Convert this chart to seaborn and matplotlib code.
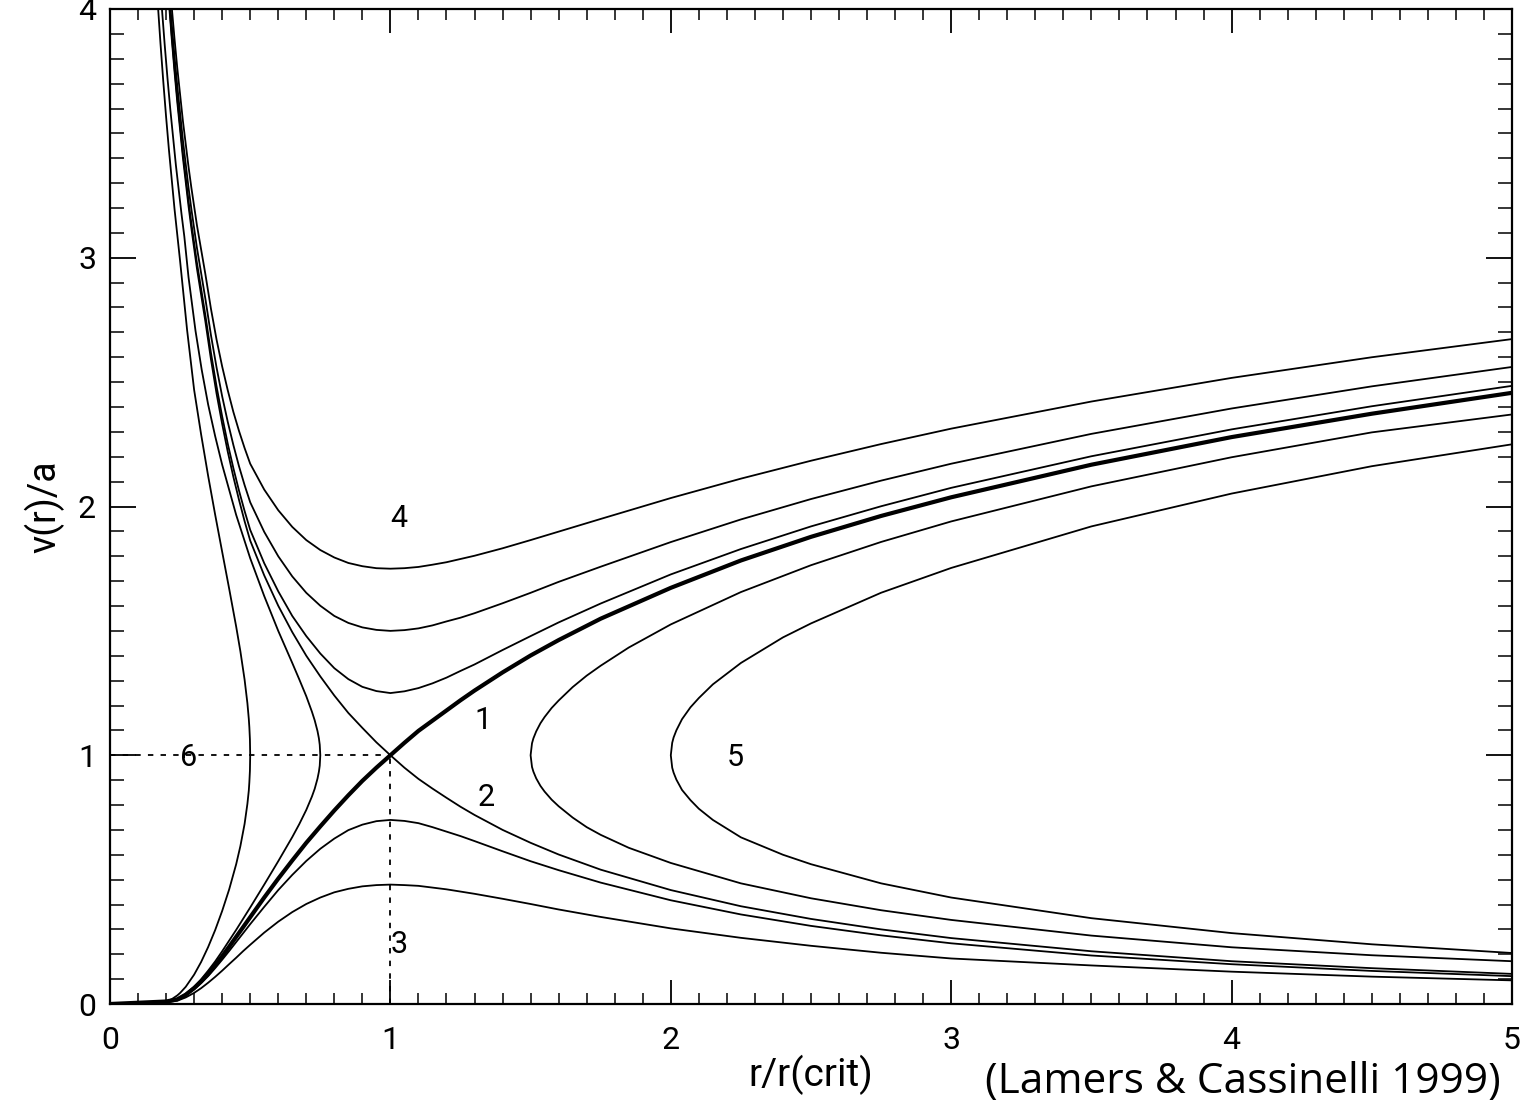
import matplotlib
matplotlib.use('Agg')
import matplotlib.pyplot as plt
import seaborn as sns
from matplotlib.ticker import MultipleLocator

# values: r/r(crit) and v(r)/a along each solution curve

# curve 1 (thick, transonic wind) and the two type-3 curves share one r grid
x_lo = [0.0, 0.2, 0.24, 0.27, 0.3, 0.325, 0.35, 0.375, 0.4, 0.425, 0.45, 0.475, 0.5, 0.55,
        0.6, 0.65, 0.7, 0.75, 0.8, 0.85, 0.9, 0.95, 1.0, 1.05, 1.1, 1.15, 1.2, 1.25, 1.3,
        1.4, 1.5, 1.6, 1.75, 2.0, 2.25, 2.5, 2.75, 3.0, 3.5, 4.0, 4.5, 5.0]
u1 = [0.0, 0.01, 0.0187, 0.0373, 0.064, 0.0905, 0.1215, 0.1557, 0.192, 0.2304, 0.27, 0.3094,
      0.349, 0.428, 0.504, 0.577, 0.648, 0.714, 0.778, 0.839, 0.897, 0.95, 1.0, 1.05, 1.098,
      1.139, 1.18, 1.221, 1.26, 1.333, 1.401, 1.463, 1.549, 1.673, 1.783, 1.878, 1.962,
      2.037, 2.168, 2.279, 2.373, 2.457]
u3a = [0.0, 0.008, 0.0174, 0.0346, 0.059, 0.084, 0.112, 0.1442, 0.178, 0.213, 0.249, 0.285,
       0.321, 0.3905, 0.458, 0.519, 0.575, 0.624, 0.665, 0.699, 0.721, 0.735, 0.74, 0.736,
       0.727, 0.711, 0.693, 0.675, 0.655, 0.614, 0.574, 0.538, 0.488, 0.417, 0.36, 0.314,
       0.276, 0.244, 0.195, 0.16, 0.133, 0.112]
u3b = [0.0, 0.006, 0.0132, 0.0263, 0.0447, 0.0636, 0.0855, 0.109, 0.134, 0.1603, 0.186,
       0.2128, 0.238, 0.287, 0.331, 0.3695, 0.402, 0.428, 0.449, 0.463, 0.473, 0.478, 0.48,
       0.478, 0.475, 0.468, 0.461, 0.452, 0.443, 0.423, 0.402, 0.38, 0.35, 0.304, 0.266,
       0.234, 0.206, 0.183, 0.155, 0.13, 0.11, 0.095]

# curve 2 and the three type-4 curves share one r grid
x_up = [0.21, 0.22, 0.23, 0.24, 0.26, 0.28, 0.29, 0.31, 0.34, 0.36, 0.38, 0.40, 0.42, 0.44,
        0.46, 0.48, 0.5, 0.55, 0.6, 0.65, 0.7, 0.75, 0.8, 0.85, 0.9, 0.95, 1.0, 1.05, 1.1,
        1.15, 1.2, 1.25, 1.3, 1.4, 1.5, 1.6, 1.75, 2.0, 2.25, 2.5, 2.75, 3.0, 3.5, 4.0, 4.5,
        5.0]
u2 = [4.028, 3.883, 3.749, 3.625, 3.402, 3.208, 3.12, 2.957, 2.745, 2.592, 2.454, 2.332, 2.22,
      2.119, 2.027, 1.941, 1.863, 1.723, 1.601, 1.495, 1.4, 1.317, 1.24, 1.17, 1.11, 1.052,
      1.0, 0.95, 0.905, 0.866, 0.829, 0.793, 0.76, 0.7, 0.648, 0.601, 0.54, 0.458, 0.393,
      0.342, 0.3, 0.265, 0.212, 0.172, 0.144, 0.121]
u4a = [4.044, 3.899, 3.765, 3.642, 3.42, 3.228, 3.14, 2.98, 2.77, 2.618, 2.483, 2.362, 2.252,
       2.154, 2.064, 1.982, 1.906, 1.772, 1.659, 1.56, 1.479, 1.409, 1.35, 1.306, 1.275,
       1.258, 1.25, 1.257, 1.27, 1.289, 1.312, 1.339, 1.365, 1.423, 1.479, 1.534, 1.61,
       1.727, 1.829, 1.92, 2.001, 2.075, 2.202, 2.31, 2.403, 2.485]
u4b = [4.086, 3.943, 3.811, 3.69, 3.472, 3.282, 3.197, 3.04, 2.836, 2.689, 2.559, 2.443, 2.34,
       2.247, 2.162, 2.086, 2.017, 1.898, 1.8, 1.719, 1.653, 1.601, 1.56, 1.532, 1.514, 1.504,
       1.5, 1.503, 1.51, 1.522, 1.538, 1.553, 1.571, 1.611, 1.653, 1.697, 1.758, 1.857,
       1.948, 2.03, 2.104, 2.172, 2.292, 2.394, 2.483, 2.561]
u4c = [4.151, 4.01, 3.881, 3.762, 3.55, 3.366, 3.283, 3.131, 2.935, 2.795, 2.671, 2.563, 2.467,
       2.38, 2.304, 2.235, 2.172, 2.068, 1.985, 1.918, 1.865, 1.825, 1.795, 1.773, 1.76,
       1.752, 1.75, 1.752, 1.757, 1.766, 1.776, 1.789, 1.802, 1.832, 1.865, 1.899, 1.95,
       2.034, 2.112, 2.184, 2.251, 2.313, 2.422, 2.517, 2.6, 2.673]

# type-5 curves: upper branch (inward) then lower branch (outward)
x5a_up = [5.0, 4.5, 4.0, 3.5, 3.0, 2.75, 2.5, 2.25, 2.0, 1.85, 1.75, 1.7, 1.65, 1.6, 1.575,
          1.55, 1.535, 1.52, 1.51, 1.505, 1.5]
u5a_up = [2.37, 2.298, 2.198, 2.081, 1.94, 1.8575, 1.764, 1.656, 1.526, 1.433, 1.36, 1.32,
          1.274, 1.22, 1.19, 1.1538, 1.1285, 1.096, 1.068, 1.048, 1.0]
x5a_lo = [1.505, 1.51, 1.52, 1.535, 1.55, 1.575, 1.6, 1.65, 1.7, 1.75, 1.85, 2.0, 2.25, 2.5,
          2.75, 3.0, 3.5, 4.0, 4.5, 5.0]
u5a_lo = [0.953, 0.934, 0.907, 0.877, 0.8538, 0.8215, 0.795, 0.7495, 0.711, 0.68, 0.628,
          0.567, 0.485, 0.425, 0.377, 0.338, 0.275, 0.228, 0.196, 0.172]
x5b_up = [5.0, 4.5, 4.0, 3.5, 3.0, 2.75, 2.5, 2.4, 2.25, 2.15, 2.1, 2.07, 2.04, 2.02, 2.01,
          2.005, 2.0]
u5b_up = [2.25, 2.162, 2.052, 1.92, 1.753, 1.6533, 1.53, 1.4738, 1.371, 1.285, 1.23, 1.1926,
          1.145, 1.1005, 1.0715, 1.05, 1.0]
x5b_lo = [2.005, 2.01, 2.02, 2.04, 2.07, 2.1, 2.15, 2.25, 2.4, 2.5, 2.75, 3.0, 3.5, 4.0, 4.5,
          5.0]
u5b_lo = [0.95, 0.93, 0.9018, 0.8605, 0.8197, 0.785, 0.74, 0.67, 0.6, 0.562, 0.485, 0.428,
          0.345, 0.285, 0.24, 0.205]

# type-6 curves: upper branch (outward) then lower branch (inward)
x6a_up = [0.185, 0.195, 0.205, 0.215, 0.235, 0.255, 0.265, 0.28, 0.305, 0.327, 0.35, 0.375,
          0.4, 0.45, 0.5, 0.55, 0.6, 0.65, 0.675, 0.7, 0.72, 0.73, 0.74, 0.745, 0.748, 0.75]
u6a_up = [4.004, 3.857, 3.722, 3.597, 3.372, 3.176, 3.086, 2.922, 2.706, 2.55, 2.41, 2.283,
          2.168, 1.966, 1.792, 1.64, 1.5, 1.371, 1.305, 1.2372, 1.1755, 1.1405, 1.0973, 1.068,
          1.042, 1.0]
x6a_lo = [0.748, 0.745, 0.74, 0.73, 0.72, 0.7, 0.675, 0.65, 0.6, 0.55, 0.5, 0.45, 0.4, 0.375,
          0.35, 0.325, 0.3, 0.27, 0.25, 0.24, 0.22, 0.2, 0.0]
u6a_lo = [0.958, 0.934, 0.906, 0.865, 0.8336, 0.7802, 0.7231, 0.671, 0.574, 0.48, 0.388,
          0.298, 0.212, 0.171, 0.134, 0.0993, 0.0695, 0.0409, 0.0264, 0.0205, 0.0114, 0.0056,
          0.0]
x6b_up = [0.17, 0.18, 0.19, 0.2, 0.21, 0.23, 0.25, 0.275, 0.3, 0.325, 0.35, 0.375, 0.4, 0.425,
          0.45, 0.465, 0.48, 0.49, 0.495, 0.497, 0.499, 0.5]
u6b_up = [4.029, 3.862, 3.709, 3.567, 3.436, 3.197, 2.9866, 2.709, 2.469, 2.2895, 2.123,
          1.9673, 1.818, 1.6695, 1.517, 1.4178, 1.304, 1.2095, 1.146, 1.112, 1.064, 1.0]
x6b_lo = [0.499, 0.497, 0.495, 0.49, 0.48, 0.465, 0.45, 0.425, 0.4, 0.375, 0.35, 0.325, 0.3,
          0.27, 0.25, 0.24, 0.22, 0.2, 0.0]
u6b_lo = [0.9375, 0.892, 0.858, 0.8045, 0.724, 0.6349, 0.562, 0.4607, 0.374, 0.297, 0.229,
          0.169, 0.118, 0.069, 0.0444, 0.0345, 0.0193, 0.0094, 0.0]

# curve labels
label_text = ['1', '2', '3', '4', '5', '6']
label_x = [1.33, 1.34, 1.03, 1.03, 2.23, 0.28]
label_y = [1.14, 0.83, 0.24, 1.95, 0.99, 0.99]

sns.set_theme(style='ticks')
plt.rcParams['font.family'] = ['Roboto', 'DejaVu Sans']
plt.rcParams['text.color'] = 'black'
plt.rcParams['axes.labelcolor'] = 'black'

fig = plt.figure(figsize=(15.32, 11.06), dpi=100)
ax = fig.add_axes([110 / 1532, 1 - 1004 / 1106, 1402 / 1532, 995 / 1106])

curves = [
    (x_up, u2), (x_up, u4a), (x_up, u4b), (x_up, u4c),
    (x_lo, u3a), (x_lo, u3b),
    (x5a_up + x5a_lo, u5a_up + u5a_lo), (x5b_up + x5b_lo, u5b_up + u5b_lo),
    (x6a_up + x6a_lo, u6a_up + u6a_lo), (x6b_up + x6b_lo, u6b_up + u6b_lo),
]
for xs, ys in curves:
    sns.lineplot(x=xs, y=ys, sort=False, estimator=None, color='black', lw=1.3, ax=ax)
sns.lineplot(x=x_lo, y=u1, sort=False, estimator=None, color='black', lw=3.0, ax=ax)

# critical point guides
ax.plot([0, 1], [1, 1], color='black', lw=1.3, ls=(0, (3, 4)))
ax.plot([1, 1], [0, 1], color='black', lw=1.3, ls=(0, (3, 4)))

for t, tx, ty in zip(label_text, label_x, label_y):
    ax.text(tx, ty, t, fontsize=22, ha='center', va='center', color='black')

ax.set_xlim(0, 5)
ax.set_ylim(0, 4)
ax.set_xticks([0, 1, 2, 3, 4, 5])
ax.set_yticks([0, 1, 2, 3, 4])
ax.xaxis.set_minor_locator(MultipleLocator(0.1))
ax.yaxis.set_minor_locator(MultipleLocator(0.1))
ax.tick_params(which='both', direction='in', top=True, right=True, colors='black',
               labelcolor='black', labelsize=23)
ax.tick_params(axis='x', which='major', length=17, width=1.3, pad=16)
ax.tick_params(axis='x', which='minor', length=8, width=1.1)
ax.tick_params(axis='y', which='major', length=19, width=1.3, pad=10)
ax.tick_params(axis='y', which='minor', length=10, width=1.1)
for sp in ax.spines.values():
    sp.set_linewidth(1.6)
    sp.set_color('black')

ax.set_xlabel('r/r(crit)', fontsize=28, color='black', labelpad=0)
ax.set_ylabel('v(r)/a', fontsize=27, color='black', labelpad=10)

fig.text(985 / 1532, 1 - 1082 / 1106, '(Lamers & Cassinelli 1999)', fontsize=30.5,
         family=['Open Sans', 'DejaVu Sans'], ha='left', va='center', color='black')

fig.savefig('out.png', dpi=100, facecolor='white')
